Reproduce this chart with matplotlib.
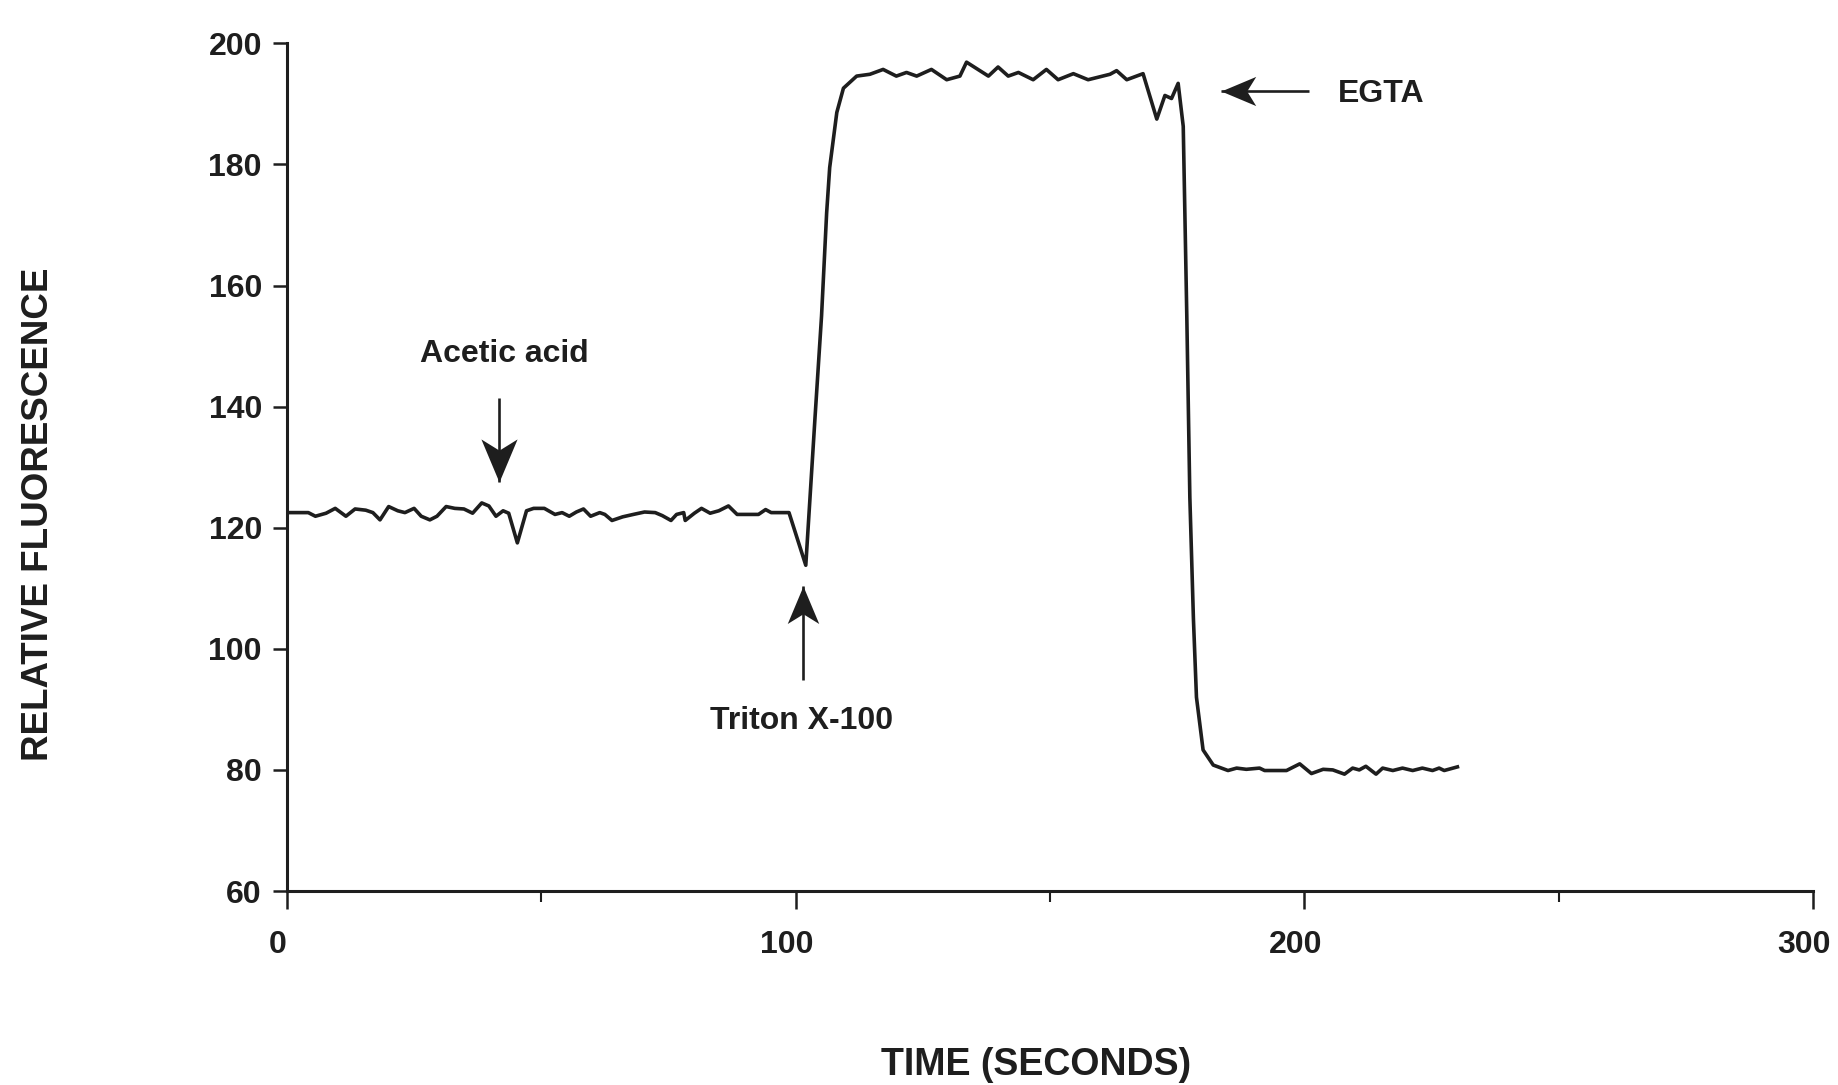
import matplotlib
matplotlib.use("Agg")
import matplotlib.pyplot as plt
from matplotlib.markers import MarkerStyle
from matplotlib.path import Path
from matplotlib.transforms import Affine2D, ScaledTranslation

plt.rcParams['font.family'] = ['Liberation Sans', 'DejaVu Sans']
plt.rcParams['font.weight'] = 'bold'

# Trace (time in s, relative fluorescence)
time_s = [
    0, 4.2, 5.6, 7.7, 9.5, 11.6, 13.4, 15.5, 16.9, 18.3, 20.0, 21.8, 23.2,
    25.0, 26.4, 28.1, 29.5, 31.3, 33.0, 34.8, 36.5, 38.3, 39.7, 41.1, 42.5,
    43.6, 45.3, 47.1, 48.5, 50.6, 52.7, 54.1, 55.5, 56.9, 58.3, 59.7, 61.5,
    62.5, 63.9, 66.0, 68.1, 70.3, 72.4, 73.8, 75.5, 76.6, 78.0, 78.3, 80.1,
    81.5, 83.2, 84.9, 86.8, 88.5, 92.7, 94.1, 95.2, 98.7,
    102.0, 103.8, 105.1, 106.1, 106.7, 108.1, 109.4, 112.0,
    114.6, 117.2, 119.8, 121.8, 123.8, 126.7, 129.7, 132.3, 133.6, 137.9,
    139.8, 141.8, 143.8, 146.7, 149.3, 151.6, 154.6, 157.5, 161.8, 163.1,
    165.1, 168.3, 171.0, 172.6, 173.9, 175.2, 176.2, 176.9, 177.5, 178.2,
    178.8, 180.1, 182.1, 185.0, 186.7, 188.6, 191.2, 192.2, 196.5, 199.1,
    201.4, 203.7, 205.6, 207.9, 209.5, 210.8, 212.1, 214.1, 215.4, 217.4,
    219.3, 221.3, 223.2, 225.2, 226.5, 227.5, 230.1,
]
fluorescence = [
    122.5, 122.5, 121.9, 122.4, 123.2, 121.9, 123.1, 122.9, 122.5, 121.3,
    123.5, 122.8, 122.5, 123.2, 121.9, 121.3, 121.9, 123.5, 123.2, 123.1,
    122.4, 124.1, 123.6, 121.9, 122.8, 122.4, 117.5, 122.8, 123.2, 123.2,
    122.2, 122.5, 121.9, 122.6, 123.1, 121.9, 122.5, 122.2, 121.2, 121.8,
    122.2, 122.6, 122.5, 122.0, 121.2, 122.2, 122.5, 121.2, 122.4, 123.2,
    122.4, 122.8, 123.6, 122.2, 122.2, 123.0, 122.5, 122.5,
    113.8, 138.0, 155.0, 172.0, 179.5, 188.6, 192.6, 194.6,
    194.9, 195.7, 194.6, 195.2, 194.6, 195.7, 194.0, 194.6, 196.9, 194.6,
    196.1, 194.6, 195.2, 194.0, 195.7, 194.0, 195.0, 194.0, 194.9, 195.5,
    194.0, 195.0, 187.5, 191.4, 190.9, 193.4, 186.3, 155.0, 125.0, 105.0,
    92.0, 83.3, 80.8, 79.9, 80.3, 80.1, 80.3, 79.9, 79.9, 81.0,
    79.4, 80.1, 80.0, 79.3, 80.3, 80.0, 80.6, 79.3, 80.3, 79.9,
    80.3, 79.9, 80.3, 79.9, 80.3, 79.9, 80.5,
]

# Annotations: label, text position, arrow tail, arrow tip, head direction (deg), head size
notes = [
    ("Acetic acid", (42.7, 148.7), (41.7, 141.4), (41.7, 127.6), 180, 62),
    ("Triton X-100", (101.2, 88.0), (101.4, 94.9), (101.4, 110.3), 0, 54),
    ("EGTA", (215.1, 191.6), (201.0, 192.1), (183.7, 192.1), 90, 50),
]

# notched arrow head pointing up, tip at the origin
head = Path([(0, 0), (0.42, -1.0), (0, -0.74), (-0.42, -1.0), (0, 0)],
            [Path.MOVETO, Path.LINETO, Path.LINETO, Path.LINETO, Path.CLOSEPOLY])

ink = "#1e1e1e"

fig = plt.figure(figsize=(18.38, 10.85), dpi=100)
ax = fig.add_axes([0.1561, 0.1788, 0.8303, 0.7812])

ax.plot(time_s, fluorescence, color=ink, lw=2.6, solid_joinstyle='round')

for label, txt, tail, tip, ang, size in notes:
    ax.plot([tail[0], tip[0]], [tail[1], tip[1]], color=ink, lw=1.9,
            solid_capstyle='butt')
    m = MarkerStyle(head, transform=Affine2D().rotate_deg(ang))
    ax.plot([tip[0]], [tip[1]], marker=m, markersize=size, color=ink,
            markeredgewidth=0, linestyle='none')
    ax.text(txt[0], txt[1], label, ha='center', va='center', fontsize=23,
            fontweight='bold', color=ink)

ax.set_xlim(0, 300)
ax.set_ylim(60, 200)
ax.set_xticks([0, 100, 200, 300])
ax.set_xticks([50, 150, 250], minor=True)
ax.set_yticks(range(60, 201, 20))

for side in ('top', 'right'):
    ax.spines[side].set_visible(False)
for side in ('left', 'bottom'):
    ax.spines[side].set_linewidth(2.2)
    ax.spines[side].set_color(ink)

ax.tick_params(axis='y', which='major', length=10, width=1.8, pad=8,
               labelsize=23, colors=ink)
ax.tick_params(axis='x', which='major', length=13, width=1.8, pad=15,
               labelsize=23, colors=ink)
ax.tick_params(axis='x', which='minor', length=8, width=1.5, colors=ink)
# x tick labels sit a little left of their ticks in the original
shift = ScaledTranslation(-0.09, 0, fig.dpi_scale_trans)
for lab in ax.get_xticklabels():
    lab.set_transform(lab.get_transform() + shift)
for lab in ax.get_xticklabels() + ax.get_yticklabels():
    lab.set_fontweight('bold')

ax.set_xlabel("TIME (SECONDS)", fontsize=27, fontweight='bold', color=ink,
              va='center')
ax.set_ylabel("RELATIVE FLUORESCENCE", fontsize=26.5, fontweight='bold',
              color=ink, va='center')
ax.xaxis.set_label_coords(0.491, -0.205)
ax.yaxis.set_label_coords(-0.163, 0.444)

fig.savefig("out.png", dpi=100, facecolor='white')
